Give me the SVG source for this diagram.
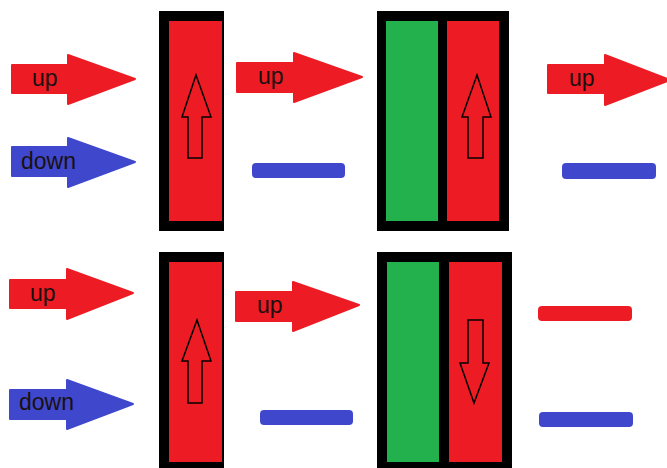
<svg xmlns="http://www.w3.org/2000/svg" width="667" height="468" viewBox="0 0 667 468">
<style>
.r{fill:#ED1C24}.b{fill:#3F48CC}.g{fill:#22B14C}.k{fill:#000}
.arr{stroke-linejoin:round;stroke-width:2}
.ar{fill:#ED1C24;stroke:#ED1C24}.ab{fill:#3F48CC;stroke:#3F48CC}
.t{font-family:"Liberation Sans",Arial,sans-serif;font-size:23px;fill:#1a1010}
.in{fill:none;stroke:#000;stroke-width:1.5;stroke-linejoin:miter}
</style>
<rect width="667" height="468" fill="#fff"/>
<g id="in-up-1">
<polygon class="arr ar" points="12,65 68,65 68,55 135,79 68,104 68,93 12,93"/>
<text class="t" x="32" y="86">up</text>
</g>
<g id="in-down-1">
<polygon class="arr ab" points="12,147 68,147 68,138 135,162 68,187 68,176 12,176"/>
<text class="t" x="21" y="169">down</text>
</g>
<g id="box-1">
<rect class="k" x="159" y="11" width="65" height="220"/>
<rect class="r" x="169" y="21" width="53" height="200"/>
<polygon class="in" points="196,75 211,117 202,117 202,158 188,158 188,117 182,117"/>
</g>
<g id="mid-up-1">
<polygon class="arr ar" points="237,63 294,63 294,53 362,77 294,102 294,92 237,92"/>
<text class="t" x="258" y="84">up</text>
</g>
<g id="mid-down-1">
<rect class="b" x="252" y="163" width="93" height="15" rx="4"/>
</g>
<g id="box-2">
<rect class="k" x="377" y="11" width="132" height="220"/>
<rect class="g" x="386" y="21" width="52" height="200"/>
<rect class="r" x="447" y="21" width="52" height="200"/>
<polygon class="in" points="477,75 491,117 483,117 483,158 468,158 468,117 462,117"/>
</g>
<g id="out-up-1">
<polygon class="arr ar" points="548,65 605,65 605,55 670,80 605,105 605,93 548,93"/>
<text class="t" x="569" y="86">up</text>
</g>
<g id="out-down-1">
<rect class="b" x="562" y="163" width="94" height="16" rx="4"/>
</g>
<g id="in-up-2">
<polygon class="arr ar" points="10,280 67,280 67,269 133,293 67,319 67,308 10,308"/>
<text class="t" x="30" y="301">up</text>
</g>
<g id="in-down-2">
<polygon class="arr ab" points="10,390 67,390 67,380 133,404 67,429 67,419 10,419"/>
<text class="t" x="19" y="410">down</text>
</g>
<g id="box-3">
<rect class="k" x="159" y="252" width="65" height="216"/>
<rect class="r" x="169" y="262" width="53" height="200"/>
<polygon class="in" points="197,320 211,361 202,361 202,403 188,403 188,361 182,361"/>
</g>
<g id="mid-up-2">
<polygon class="arr ar" points="236,292 293,292 293,282 359,305 293,331 293,321 236,321"/>
<text class="t" x="257" y="313">up</text>
</g>
<g id="mid-down-2">
<rect class="b" x="260" y="410" width="93" height="15" rx="4"/>
</g>
<g id="box-4">
<rect class="k" x="377" y="252" width="135" height="216"/>
<rect class="g" x="387" y="262" width="52" height="200"/>
<rect class="r" x="449" y="262" width="53" height="200"/>
<polygon class="in" points="468,320 483,320 483,363 489,363 474,403 460,363 468,363"/>
</g>
<g id="out-2">
<rect class="r" x="538" y="306" width="94" height="15" rx="4"/>
<rect class="b" x="539" y="412" width="94" height="15" rx="4"/>
</g>
</svg>
